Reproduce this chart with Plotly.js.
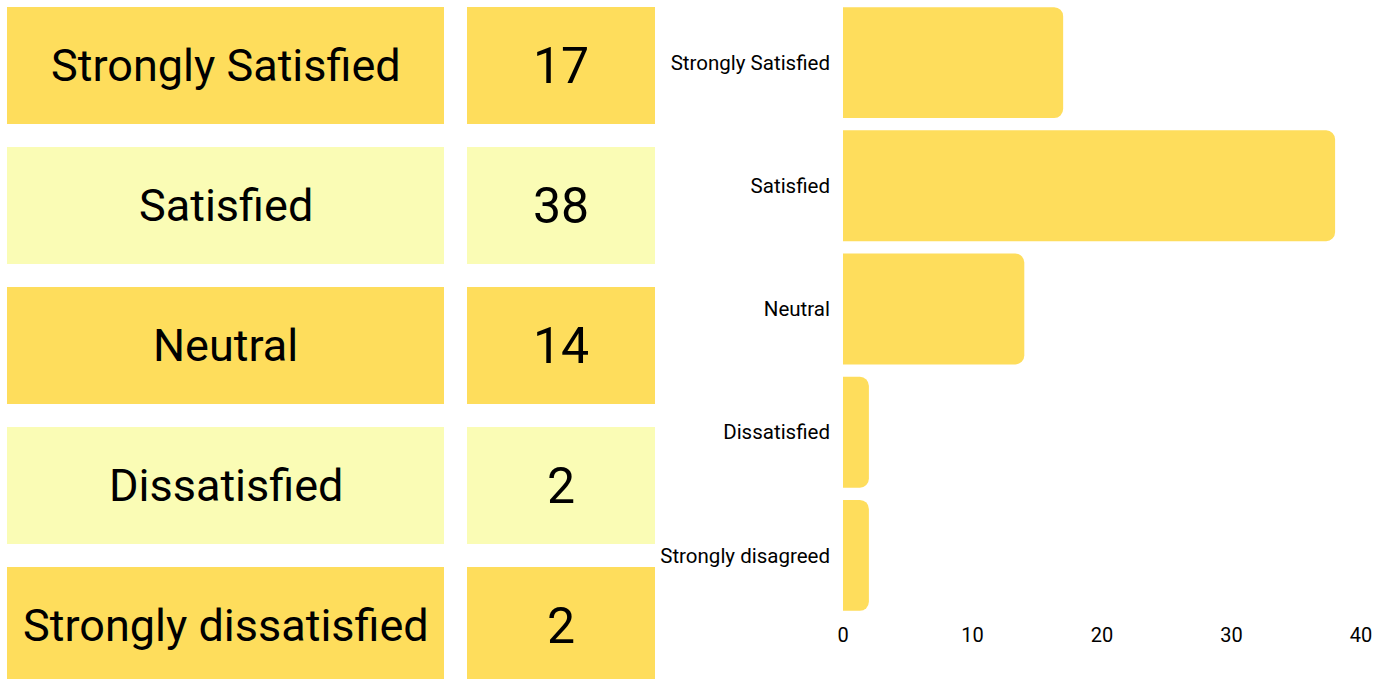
<!DOCTYPE html>
<html><head><meta charset="utf-8">
<script src="https://cdn.plot.ly/plotly-3.0.1.min.js"></script>
<style>html,body{margin:0;padding:0;background:#fff;}#chart{width:1389px;height:679px;}</style>
</head><body><div id="chart"></div>
<script>
// Table data
const tableLabels = ["Strongly Satisfied", "Satisfied", "Neutral", "Dissatisfied", "Strongly dissatisfied"];
const tableCounts = [17, 38, 14, 2, 2];
// Bar chart data
const barCategories = ["Strongly Satisfied", "Satisfied", "Neutral", "Dissatisfied", "Strongly disagreed"];
const barValues = [17, 38, 14, 2, 2];
const xTicks = [0, 10, 20, 30, 40];

const W = 1389, H = 679;
const dark = "#FEDD5C", light = "#FAFCB5";
const FONT = "Roboto, 'Open Sans', sans-serif";
const px = v => v / W;
const py = v => 1 - v / H;

const shapes = [], annotations = [];
tableLabels.forEach((lab, i) => {
  const top = 7 + i * 140, bot = top + 117;
  const col = i % 2 === 0 ? dark : light;
  shapes.push({type: "rect", xref: "paper", yref: "paper", x0: px(7), x1: px(444), y0: py(bot), y1: py(top), fillcolor: col, line: {width: 0}, layer: "below"});
  shapes.push({type: "rect", xref: "paper", yref: "paper", x0: px(467), x1: px(655), y0: py(bot), y1: py(top), fillcolor: col, line: {width: 0}, layer: "below"});
  const cy = py((top + bot) / 2);
  annotations.push({xref: "paper", yref: "paper", x: px(225.5), y: cy, text: lab, showarrow: false, xanchor: "center", yanchor: "middle", font: {family: FONT, size: 45, color: "#000"}});
  annotations.push({xref: "paper", yref: "paper", x: px(561), y: cy, text: String(tableCounts[i]), showarrow: false, xanchor: "center", yanchor: "middle", font: {family: FONT, size: 50, color: "#000"}});
});

const trace = {
  type: "bar", orientation: "h",
  x: barValues, y: barCategories,
  marker: {color: dark, cornerradius: 9},
  hoverinfo: "x+y"
};

const layout = {
  width: W, height: H,
  margin: {l: 0, r: 0, t: 0, b: 0},
  paper_bgcolor: "#fff", plot_bgcolor: "#fff",
  showlegend: false,
  bargap: 0.1,
  xaxis: {domain: [px(843), px(1361)], range: [0, 40], tickvals: xTicks, showgrid: false, zeroline: false, showline: false, ticks: "", ticklabelstandoff: 4, tickfont: {family: FONT, size: 20, color: "#000"}, fixedrange: true},
  yaxis: {domain: [1 - 617 / H, 1 - 1 / H], autorange: "reversed", showgrid: false, zeroline: false, showline: false, ticks: "", ticklabelstandoff: 12, tickfont: {family: FONT, size: 20.5, color: "#000"}, fixedrange: true},
  shapes: shapes,
  annotations: annotations
};
Plotly.newPlot("chart", [trace], layout, {displayModeBar: false, staticPlot: true});
</script></body></html>
